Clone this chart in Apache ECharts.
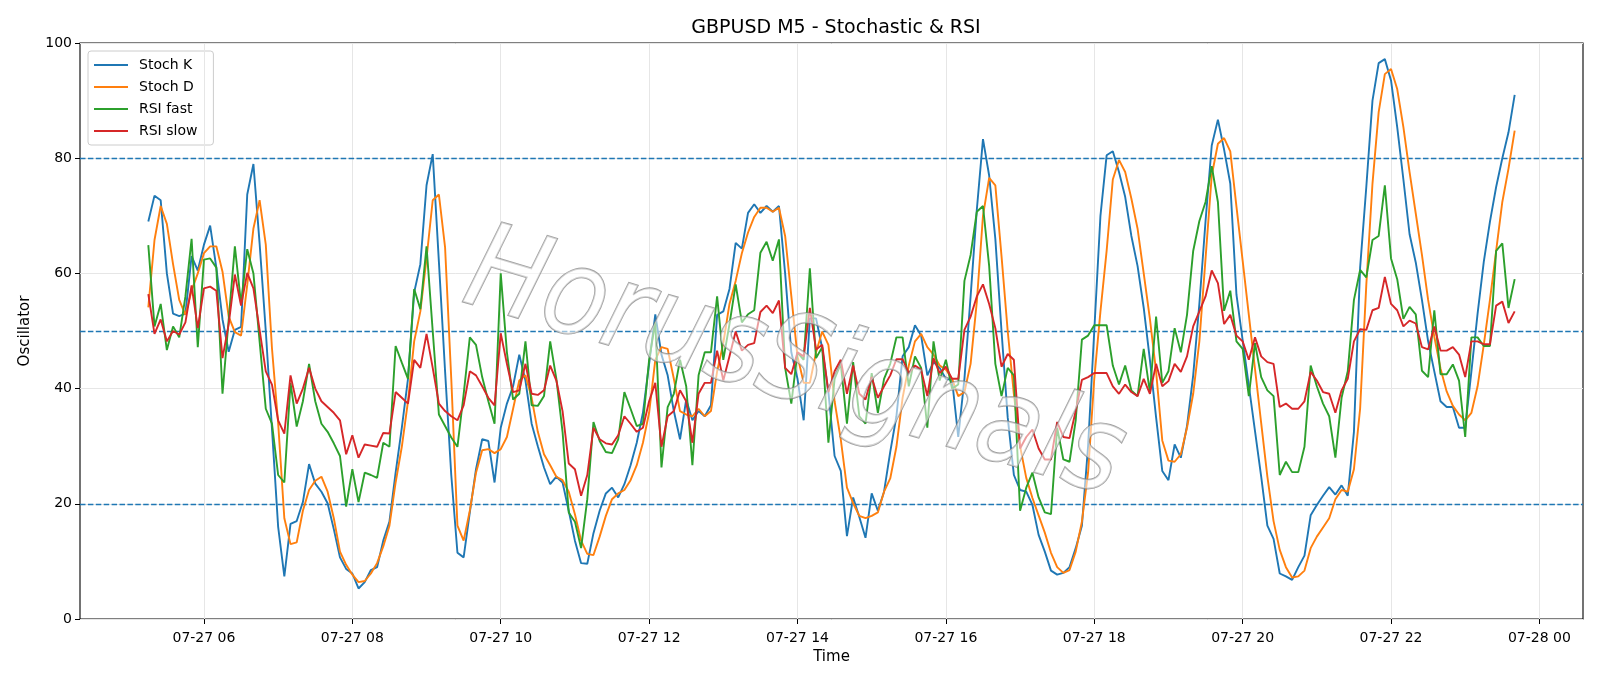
<!DOCTYPE html>
<html>
<head>
<meta charset="utf-8">
<script src="https://cdn.jsdelivr.net/npm/echarts@6/dist/echarts.min.js"></script>
<style>
html,body{margin:0;padding:0;background:#ffffff;}
#chart{width:1600px;height:686px;}
</style>
</head>
<body>
<div id="chart"></div>
<script>
// ---- data (M5 bars, 07-27 05:15 .. 23:40) ----
const startHour = 5.25;      // 05:15
const stepMinutes = 5;

const stochK = [
69,73.5,72.7,60,53,52.6,53,63,60.5,65,
68.3,61,52,46.4,50.2,50.7,73.7,79,65.2,50,
33,16,7.4,16.5,17,20.3,26.9,23.5,22.1,20.1,
15.6,10.7,8.7,7.9,5.3,6.4,8.5,9,13.6,16.9,
25.4,33.2,41.7,56.7,61.6,75.3,80.7,62,43,25,
11.5,10.7,18.5,26,31.2,30.9,23.7,33.2,37.4,40.4,
45.9,41.4,33.9,30,26.3,23.4,24.7,23.7,18.8,13.6,
9.7,9.6,14.9,18.8,21.8,22.8,21.1,23.4,26.7,30.6,
35.8,44.3,52.9,45.9,42.3,36.1,31.2,38.1,34.5,36.1,
35.2,37.1,52.8,53.4,57.3,65.3,64.3,70.5,72,70.5,
71.7,70.7,71.7,60,46.3,41.7,34.5,52.2,52.2,47,
39.4,28.3,25.7,14.4,21.1,17.7,14.1,21.8,18.8,22.1,
29,35.2,45.6,47.2,51,49.2,42.3,44.6,43.6,41.7,
41.5,31.6,41.7,56,71,83.3,77,66,50,35,
25,22.4,22.1,19.8,14.6,11.7,8.4,7.7,8,9,
12.3,16.2,30,50,70,80.5,81.2,77.6,73.3,66.5,
61.3,54,45,35,25.7,24.1,30.3,28,33.5,42.3,
54.7,69.1,82.2,86.7,81.5,75.6,56.3,48.4,40.5,32.6,
24.7,16.2,13.9,7.9,7.4,6.8,9,11,18,19.8,
21.4,22.9,21.6,23.2,21.4,32.5,61,75,90,96.5,
97.2,93.5,85.4,76.3,66.8,61.9,55.4,48.2,43,37.8,
36.8,36.8,33.2,33.2,43,53,62,69,75,80,
84.5,91
];

const stochD = [
54.1,65.8,71.7,68.6,61.6,55.4,52.8,57,60,63.5,
64.7,64.7,60.3,52.5,49.8,49.2,58,67.8,72.7,65,
47,34,17.5,13,13.3,18.8,22.4,24,24.7,22.1,
17.5,11.7,9.4,7.7,6.4,6.6,7.9,9.7,12.6,16.2,
23.7,29.9,37.8,48.2,53.4,62.6,72.7,73.7,64.5,41.7,
16.2,13.6,18.8,25.4,29.3,29.5,28.8,29.5,31.6,36.5,
41.4,42.3,38.4,32.5,28.6,26.7,24.7,24.1,22.1,18.2,
13.6,11.3,11.1,14.3,17.9,20.8,21.8,22.4,24.1,26.7,
30.6,35.8,45,47.2,46.9,41.7,36.1,35.5,35.2,36.5,
35.2,36.1,43,47.9,54.7,58.7,63.5,67.1,69.8,71.4,
71.4,70.7,71.4,66.5,56.1,45.6,41,41,46.3,49.9,
47.6,37.8,31.2,22.8,20.1,17.9,17.5,17.9,18.5,22.1,
24.4,29.9,38.4,44,48.2,49.5,47.2,45.9,44,43.3,
41.7,38.7,39.4,44.3,55,70,76.6,75.3,63,50,
39,30,24.5,21,18,15,11.5,9,8,8.5,
11.7,16.9,25.4,41.7,53.4,63.9,76.3,79.7,77.6,73,
67.8,60,52.1,43,31,27.5,27.3,28.6,33.2,39.1,
48.2,62.6,77,82.5,83.5,81.2,71.6,62.2,52.8,43.4,
34,24.7,17,12,9,7.2,7.4,8.4,12.3,14.3,
15.9,17.5,20.8,22.4,22.1,26,36.5,58,75.6,88,
94.6,95.5,92,85.4,77.6,70.4,63.2,55.4,49,43.5,
39.5,37,35.5,34.5,35.8,40.4,47.6,55.4,63.9,72.4,
78.2,84.8
];

const rsiFast = [
64.9,50.8,54.7,46.7,50.8,48.9,56,66,47.2,62.4,
62.6,61,39.1,52,64.7,54.7,64.2,60,48.2,36.5,
33.9,25,23.7,41,33.4,37.8,44.3,37.8,33.9,32.5,
30.5,28.3,19.5,26,20.3,25.4,25,24.5,30.6,29.9,
47.4,44.5,41.7,57.3,53.8,64.7,50,35.5,33.5,31.5,
29.9,39,48.9,47.6,42,37.8,33.9,60,46.3,38.1,
39.1,48.2,37.1,37,38.7,48.2,41.7,32.5,18.5,16.9,
12.3,20.8,34.2,30.9,29,28.8,31.2,39.4,36.5,33.5,
33.9,45,51.5,26.3,36.8,39.1,45,40.4,26.7,42.3,
46.3,46.3,56,45,51.2,58.1,51.5,52.9,53.6,63.6,
65.5,62.2,65.9,43.6,37.4,46.3,45,60.9,45.3,47.2,
30.6,41.7,44.3,33.9,44.6,35.2,33.9,42.7,35.8,41.7,
44.3,48.9,48.9,40.4,45.6,43.6,33.2,48.2,41.4,45,
40,40.7,58.7,63.2,70.7,71.7,61.3,44.3,38.7,43.6,
42.3,18.8,22.8,25.4,21.1,18.5,18.2,33.2,27.7,27.3,
34.5,48.5,49.2,51,51,51,44,40.7,44,39.7,
38.7,46.9,39.4,52.5,41,43,50.5,46.3,52.8,63.9,
69.1,72.4,78.6,72.4,53.5,57,48.2,46.9,38.7,47.9,
42,39.7,38.7,25,27.3,25.5,25.5,29.9,44,40.4,
37.4,35.2,28,38.4,43,55.4,60.6,59.3,65.8,66.5,
75.3,62.6,59,52.1,54.2,52.9,43.1,42,53.6,42.5,
42.5,44.2,41.4,31.6,48.9,48.9,47.4,47.4,63.9,65.2,
54,59
];

const rsiSlow = [
56.4,49.5,52,48.2,50,49.4,51.5,57.9,50.5,57.4,
57.7,57,45.3,51.2,59.8,54.4,60.1,57.4,50.2,43,
40.7,34.5,32.2,42.3,37.4,40,43.6,40,37.8,36.8,
35.8,34.5,28.6,31.9,28,30.3,30.1,29.9,32.3,32.2,
39.4,38.4,37.4,45,43.6,49.5,43.6,37.4,36.1,35.2,
34.5,37.1,43,42.3,40.4,38.4,37.1,49.6,44.3,39.4,
39.7,44.3,39.1,38.9,39.7,44,41.4,36.1,27,26,
21.4,25,33.2,31.2,30.5,30.3,31.9,35.2,33.9,32.5,
33.2,37.8,41,29.9,35.2,36.1,39.7,37.8,30.6,39.1,
41,41,46.6,41.4,45.6,49.9,46.6,47.6,47.9,53.3,
54.4,53.1,55.3,43.6,42.5,46.3,45.6,54,46.8,47.6,
39.4,43,45,39.1,44,39.1,38.1,42,38.4,40.4,
42.3,45.1,45.1,42.7,44,43.3,38.7,45.3,42.7,43.8,
41.7,41.7,50.2,52.5,56,58.1,54.7,50.5,43.8,46,
45,29.6,31.6,32.9,29.6,27.7,27.7,34.2,31.6,31.4,
36.1,41.5,42,42.7,42.7,42.7,40.4,39.1,40.7,39.4,
38.7,41.7,39.1,44.3,40.4,41.3,44.3,42.9,45.6,50.8,
53.4,56,60.5,58.3,51.2,52.8,49.2,48.2,45,48.9,
45.6,44.6,44.3,36.8,37.4,36.5,36.5,37.8,42.9,41.4,
39.4,39.1,35.8,39.7,41.7,48.2,50.3,50.2,53.6,54,
59.4,54.7,53.6,50.8,51.8,51.3,47.2,46.8,50.8,46.6,
46.6,47.2,45.9,42,48.2,48.2,47.7,47.7,54.4,55.1,
51.4,53.4
];

const tickHours  = [6, 8, 10, 12, 14, 16, 18, 20, 22, 24];
const tickLabels = ['07-27 06','07-27 08','07-27 10','07-27 12','07-27 14','07-27 16','07-27 18','07-27 20','07-27 22','07-28 00'];
const levels = [80, 50, 20];

// time of each bar in hours of 07-27
const hours = stochK.map((_, i) => startHour + i * stepMinutes / 60);
const span = hours[hours.length - 1] - hours[0];
const xMin = hours[0] - 0.05 * span;
const xMax = hours[hours.length - 1] + 0.05 * span;

const FONT = 'DejaVu Sans';
const pair = arr => arr.map((v, i) => [hours[i], v]);

function lineSeries(name, data, color) {
  return {
    name: name, type: 'line', data: pair(data),
    showSymbol: false, symbol: 'none', z: 5,
    lineStyle: { color: color, width: 1.9 },
    itemStyle: { color: color },
    emphasis: { disabled: true }
  };
}

const chart = echarts.init(document.getElementById('chart'), null, { renderer: 'canvas' });
chart.setOption({
  animation: false,
  backgroundColor: '#ffffff',
  title: {
    text: 'GBPUSD M5 - Stochastic & RSI',
    left: 831, top: 14, textAlign: 'center',
    textStyle: { fontFamily: FONT, fontSize: 19, fontWeight: 'normal', color: '#000' }
  },
  grid: {
    left: 80, right: 17, top: 43, bottom: 67,
    show: true, borderColor: '#000', borderWidth: 1.1, backgroundColor: 'transparent'
  },
  legend: {
    data: ['Stoch K', 'Stoch D', 'RSI fast', 'RSI slow'],
    orient: 'vertical', left: 88, top: 51,
    padding: [7, 16, 7, 6], itemGap: 8,
    itemWidth: 34, itemHeight: 2, icon: 'rect',
    backgroundColor: 'rgba(255,255,255,0.85)',
    borderColor: '#cccccc', borderWidth: 1, borderRadius: 3,
    selectedMode: false,
    textStyle: { fontFamily: FONT, fontSize: 14, color: '#000', padding: [0, 0, 0, 6] }
  },
  xAxis: {
    type: 'value', min: xMin, max: xMax,
    name: 'Time', nameLocation: 'middle', nameGap: 31,
    nameTextStyle: { fontFamily: FONT, fontSize: 15, color: '#000' },
    axisLine: { show: false },
    axisTick: { show: true, length: 5, customValues: tickHours, lineStyle: { color: '#000', width: 1 } },
    axisLabel: {
      customValues: tickHours, margin: 12,
      fontFamily: FONT, fontSize: 14, color: '#000',
      formatter: v => { const k = tickHours.indexOf(v); return k >= 0 ? tickLabels[k] : ''; }
    },
    splitLine: { show: false }
  },
  yAxis: {
    type: 'value', min: 0, max: 100, interval: 20,
    name: 'Oscillator', nameLocation: 'middle', nameGap: 47, nameRotate: 90,
    nameTextStyle: { fontFamily: FONT, fontSize: 15, color: '#000' },
    axisLine: { show: false },
    axisTick: { show: true, length: 5, lineStyle: { color: '#000', width: 1 } },
    axisLabel: { margin: 8, fontFamily: FONT, fontSize: 14, color: '#000' },
    splitLine: { show: true, lineStyle: { color: '#e6e6e6', width: 1 } }
  },
  series: [
    {
      name: 'vgrid', type: 'line', data: [], z: 1, silent: true,
      markLine: {
        silent: true, symbol: ['none', 'none'], animation: false,
        label: { show: false },
        lineStyle: { color: '#e6e6e6', width: 1, type: 'solid' },
        data: tickHours.map(h => ({ xAxis: h }))
      }
    },
    lineSeries('Stoch K', stochK, '#1f77b4'),
    lineSeries('Stoch D', stochD, '#ff7f0e'),
    lineSeries('RSI fast', rsiFast, '#2ca02c'),
    lineSeries('RSI slow', rsiSlow, '#d62728'),
    {
      name: 'levels', type: 'line', data: [], z: 6, silent: true,
      markLine: {
        silent: true, symbol: ['none', 'none'], animation: false,
        label: { show: false },
        lineStyle: { color: '#1f77b4', width: 1.3, type: [5.5, 2.4] },
        data: levels.map(v => ({ yAxis: v }))
      }
    }
  ],
  graphic: [{
    type: 'text', x: 794, y: 368, rotation: -0.29, scaleY: 1.15, z: 100, silent: true,
    style: {
      text: 'HorusSignals',
      font: 'italic 104px "DejaVu Sans"',
      align: 'center', verticalAlign: 'middle',
      fill: 'rgba(255,255,255,0.55)',
      stroke: 'rgba(130,130,130,0.75)', lineWidth: 1.6,
      shadowColor: 'rgba(0,0,0,0.3)', shadowBlur: 2, shadowOffsetX: 4, shadowOffsetY: 4
    }
  }]
});
</script>
</body>
</html>
